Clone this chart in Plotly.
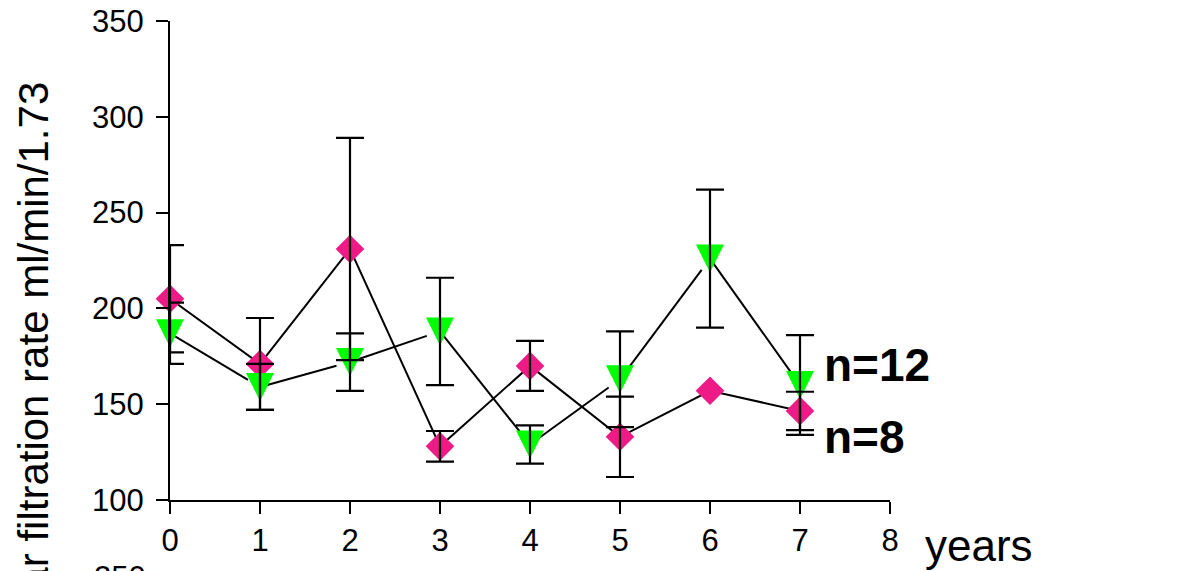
import plotly.graph_objects as go

years = [0, 1, 2, 3, 4, 5, 6, 7]
n8_mean = [205, 171, 231, 128, 170, 133, 157, 146.5]
n8_err = [28, 24, 58, 8, 13, 21, 0, 10]
n12_mean = [187, 159, 172, 188, 129, 163, 226, 160]
n12_err = [16, 12, 15, 28, 10, 25, 36, 26]
y_ticks = [100, 150, 200, 250, 300, 350]
x_ticks = [0, 1, 2, 3, 4, 5, 6, 7, 8]

PINK = "#EE1A86"
GREEN = "#00FF00"
FONT = "Liberation Sans, Arial, sans-serif"

fig = go.Figure()

fig.add_trace(go.Scatter(
    x=years, y=n8_mean, mode="lines+markers",
    line=dict(color="black", width=2),
    marker=dict(symbol="diamond", size=22, color=PINK),
    cliponaxis=False, showlegend=False))

fig.add_trace(go.Scatter(
    x=years, y=n12_mean, mode="lines+markers",
    line=dict(color="black", width=2),
    marker=dict(symbol="arrow-down", size=28, color=GREEN, standoff=14),
    cliponaxis=False, showlegend=False))

# error bars drawn on top of markers
for mean, err in [(n8_mean, n8_err), (n12_mean, n12_err)]:
    xs = [x for x, e in zip(years, err) if e > 0]
    ys = [m for m, e in zip(mean, err) if e > 0]
    es = [e for e in err if e > 0]
    fig.add_trace(go.Scatter(
        x=xs, y=ys, mode="markers",
        marker=dict(color="rgba(0,0,0,0)", size=1),
        error_y=dict(type="data", array=es, visible=True,
                     color="black", thickness=2.2, width=14),
        cliponaxis=False, showlegend=False, hoverinfo="skip"))

fig.add_annotation(x=7.244, y=170.3, xref="x", yref="y", text="<b>n=12</b>",
                   showarrow=False, xanchor="left", yanchor="middle",
                   font=dict(family=FONT, size=46, color="black"))
fig.add_annotation(x=7.244, y=132.8, xref="x", yref="y", text="<b>n=8</b>",
                   showarrow=False, xanchor="left", yanchor="middle",
                   font=dict(family=FONT, size=46, color="black"))

# y-axis title (rotated, partially cut off by the image edge)
fig.add_annotation(x=-0.1896, y=0.8768, xref="paper", yref="paper",
                   text="Glomerular filtration rate ml/min/1.73",
                   textangle=-90, showarrow=False,
                   xanchor="center", yanchor="top",
                   font=dict(family=FONT, size=42, color="black"))

# x-axis title
fig.add_annotation(x=1.0458, y=-0.094, xref="paper", yref="paper",
                   text="years", showarrow=False,
                   xanchor="left", yanchor="middle",
                   font=dict(family=FONT, size=44, color="black"))

# fragment of the next panel's tick label
fig.add_annotation(x=-0.0306, y=-0.1608, xref="paper", yref="paper",
                   text="250", showarrow=False,
                   xanchor="right", yanchor="middle",
                   font=dict(family=FONT, size=31, color="black"))

axis_common = dict(showgrid=False, zeroline=False, showline=True,
                   linecolor="black", linewidth=2, ticks="outside",
                   ticklen=12, tickwidth=2, tickcolor="black",
                   tickfont=dict(family=FONT, size=31, color="black"),
                   automargin=False)

fig.update_xaxes(range=[0, 8], tickvals=x_ticks, ticklabelstandoff=0,
                 **axis_common)
fig.update_yaxes(range=[100, 350], tickvals=y_ticks, ticklabelstandoff=6,
                 **axis_common)

fig.update_layout(
    width=1188, height=571,
    margin=dict(l=170, r=298, t=21, b=71),
    plot_bgcolor="white", paper_bgcolor="white",
    font=dict(family=FONT, color="black"),
)

fig.write_html("out.html",
               config={"displayModeBar": False},
               post_script="document.body.style.margin='0';document.body.style.overflow='hidden';")
